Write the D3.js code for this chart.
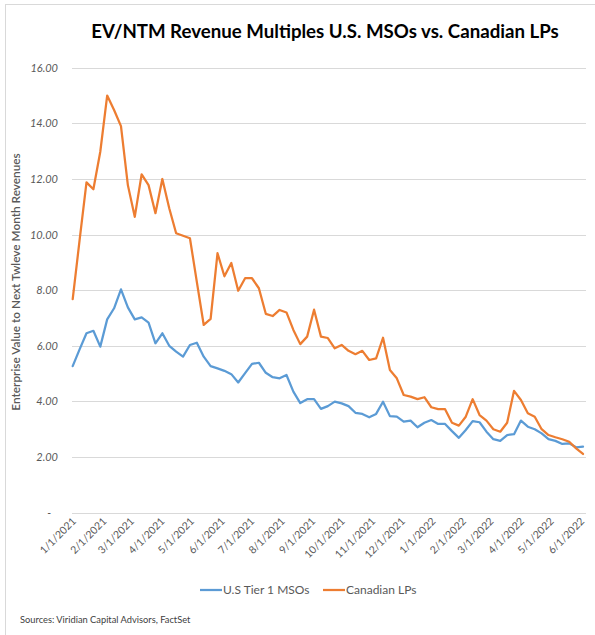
<!DOCTYPE html>
<html><head><meta charset="utf-8">
<script src="https://cdn.jsdelivr.net/npm/d3@7"></script>
<style>
html,body{margin:0;padding:0;background:#fff;}
svg{display:block;}
</style></head>
<body>
<svg id="chart" width="595" height="635"></svg>
<script>
const title = "EV/NTM Revenue Multiples U.S. MSOs vs. Canadian LPs";
const yAxisTitle = "Enterprise Value to Next Twleve Month Revenues";
const sourceText = "Sources:  Viridian Capital Advisors, FactSet";
const seriesNames = ["U.S Tier 1 MSOs", "Canadian LPs"];
const startDate = "2021-01-01";
const yTicks = [0, 2, 4, 6, 8, 10, 12, 14, 16];

const usMSOs = [5.27,5.87,6.45,6.54,5.97,6.95,7.35,8.03,7.38,6.95,
  7.02,6.83,6.09,6.45,6.00,5.79,5.61,6.03,6.11,5.61,
  5.27,5.19,5.10,4.98,4.68,5.02,5.35,5.39,5.03,4.87,
  4.83,4.95,4.35,3.94,4.08,4.08,3.73,3.83,3.99,3.93,
  3.83,3.59,3.55,3.43,3.55,3.99,3.47,3.45,3.27,3.31,
  3.07,3.23,3.33,3.19,3.19,2.93,2.69,2.97,3.29,3.25,
  2.91,2.64,2.58,2.79,2.82,3.31,3.09,3.00,2.85,2.64,
  2.58,2.47,2.49,2.35,2.37];
const canadianLPs = [7.68,9.80,11.88,11.63,12.98,15.00,14.48,13.90,11.78,10.64,
  12.17,11.78,10.77,12.00,10.95,10.05,9.96,9.87,8.30,6.75,
  6.97,9.33,8.50,8.98,7.98,8.43,8.43,8.07,7.15,7.07,
  7.29,7.20,6.57,6.06,6.33,7.30,6.33,6.28,5.91,6.03,
  5.82,5.70,5.82,5.49,5.55,6.29,5.13,4.83,4.23,4.17,
  4.08,4.15,3.79,3.72,3.72,3.23,3.13,3.45,4.08,3.51,
  3.31,3.00,2.91,3.23,4.38,4.05,3.57,3.45,3.00,2.79,
  2.71,2.64,2.55,2.31,2.11];
const colors = ["#5B9BD5", "#ED7D31"];

const svg = d3.select("#chart");
const font = "Lato, 'Open Sans', sans-serif";

// outer frame
svg.append("rect").attr("x", 5.5).attr("y", 4.5).attr("width", 620).attr("height", 660)
  .attr("fill", "none").attr("stroke", "#d9d9d9").attr("stroke-width", 1);

const t0 = d3.timeParse("%Y-%m-%d")(startDate);
const dates = usMSOs.map((_, i) => d3.timeDay.offset(t0, 7 * i));

const x = d3.scaleTime().domain([dates[0], dates[dates.length - 1]]).range([72.7, 583]);
const y = d3.scaleLinear().domain([0, 16]).range([512.6, 67.8]);

// gridlines
svg.append("g").selectAll("line").data(yTicks).join("line")
  .attr("x1", 72).attr("x2", 586)
  .attr("y1", d => Math.round(y(d)) + 0.5).attr("y2", d => Math.round(y(d)) + 0.5)
  .attr("stroke", "#d9d9d9").attr("stroke-width", 1);

// y tick labels
svg.append("g").selectAll("text").data(yTicks).join("text")
  .attr("x", d => d === 0 ? 51 : 58)
  .attr("y", d => y(d) + 4)
  .attr("text-anchor", "end")
  .attr("font-family", font).attr("font-size", 11).attr("font-style", "italic")
  .attr("fill", "#595959")
  .text(d => d === 0 ? "-" : d.toFixed(2));

// y axis title
svg.append("text")
  .attr("transform", "translate(20,282) rotate(-90)")
  .attr("text-anchor", "middle")
  .attr("font-family", font).attr("font-size", 11.8).attr("font-weight", 600)
  .attr("fill", "#595959")
  .text(yAxisTitle);

// x tick labels
const monthTicks = d3.timeMonth.range(d3.timeMonth.floor(dates[0]), d3.timeDay.offset(dates[dates.length - 1], 1));
const fmt = d3.timeFormat("%-m/%-d/%Y");
svg.append("g").selectAll("text").data(monthTicks).join("text")
  .attr("transform", d => `translate(${x(d) + 4},${522}) rotate(-45)`)
  .attr("text-anchor", "end")
  .attr("font-family", font).attr("font-size", 10.5)
  .attr("fill", "#595959")
  .text(d => fmt(d));

// lines
const line = d3.line().x((d, i) => x(dates[i])).y(d => y(d));
[usMSOs, canadianLPs].forEach((s, k) => {
  svg.append("path").datum(s).attr("d", line)
    .attr("fill", "none").attr("stroke", colors[k]).attr("stroke-width", 2.25)
    .attr("stroke-linejoin", "round").attr("stroke-linecap", "round");
});

// title
const tt = svg.append("text")
  .attr("x", 325).attr("y", 38).attr("text-anchor", "middle")
  .attr("font-family", font).attr("font-weight", 700).attr("font-size", 18)
  .attr("fill", "#000").text(title);
const tw = tt.node().getComputedTextLength();
tt.attr("font-size", 18 * 468 / tw);

// legend
const legend = svg.append("g");
const lx = [200, 323];
seriesNames.forEach((n, k) => {
  legend.append("line").attr("x1", lx[k]).attr("x2", lx[k] + 22)
    .attr("y1", 590).attr("y2", 590)
    .attr("stroke", colors[k]).attr("stroke-width", 2.25);
  legend.append("text").attr("x", lx[k] + 23).attr("y", 594)
    .attr("font-family", font).attr("font-size", 12).attr("fill", "#595959")
    .text(n);
});

// sources
svg.append("text").attr("x", 20).attr("y", 623)
  .attr("font-family", font).attr("font-size", 9.3).attr("fill", "#404040")
  .text(sourceText);
</script>
</body></html>
